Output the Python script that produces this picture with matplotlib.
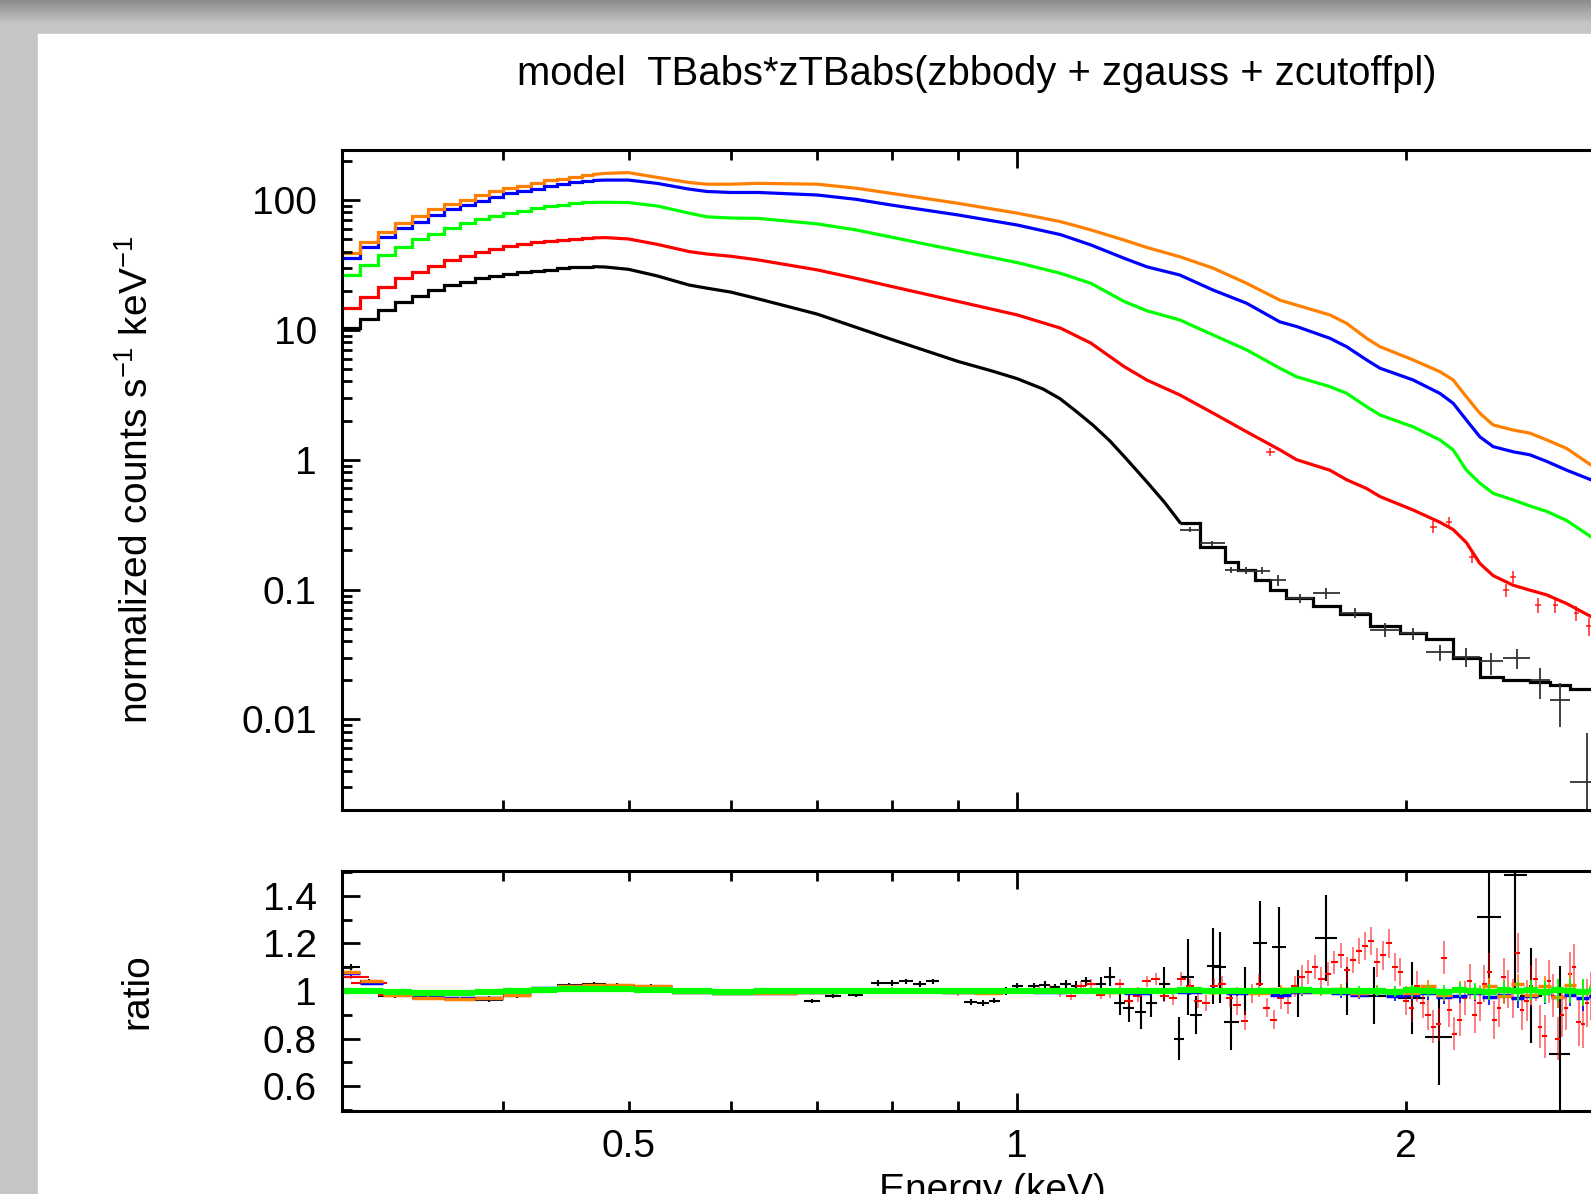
import numpy as np
import matplotlib
matplotlib.use('Agg')
import matplotlib.pyplot as plt
from matplotlib.patches import Rectangle
from matplotlib.ticker import FixedLocator, FixedFormatter, LogLocator, NullFormatter

plt.rcParams['font.family'] = ['Liberation Sans', 'DejaVu Sans']
plt.rcParams['mathtext.fontset'] = 'custom'
plt.rcParams['mathtext.rm'] = 'Liberation Sans'
plt.rcParams['mathtext.default'] = 'regular'

# ---------------- spectrum data (normalized counts s^-1 keV^-1) ----------------
# low-energy bins, 0.01 keV wide
lo_edges = [0.30, 0.31, 0.32, 0.33, 0.34, 0.35, 0.36, 0.37, 0.38, 0.39,
            0.40, 0.41, 0.42, 0.43, 0.44, 0.45, 0.46, 0.47]
lo_black = [10.4, 12.0, 14.2, 16.3, 18.3, 20.2, 22.1, 23.5, 24.9, 26.1,
            27.0, 27.8, 28.5, 29.1, 29.7, 30.2, 30.6]
lo_red = [14.6, 18.0, 21.5, 24.9, 28.0, 31.2, 34.5, 37.0, 39.9, 42.2,
          44.0, 45.5, 47.0, 48.3, 49.5, 50.3, 51.0]
lo_green = [26.4, 31.5, 37.7, 43.6, 49.8, 55.0, 61.0, 66.0, 71.0, 75.0,
            79.0, 82.0, 86.0, 89.0, 92.0, 94.0, 95.5]
lo_blue = [35.5, 43.6, 52.0, 60.4, 68.0, 76.0, 84.7, 91.0, 98.6, 106.0,
           112.0, 117.0, 122.0, 127.0, 133.0, 137.0, 140.0]
lo_orange = [39.0, 47.7, 57.0, 66.7, 75.0, 85.0, 93.0, 100.0, 109.0, 116.0,
             123.0, 128.0, 134.0, 141.0, 146.0, 150.0, 155.0]

# finer binned part, drawn as a continuous model curve
mid_e = [0.47, 0.48, 0.50, 0.526, 0.557, 0.575, 0.60, 0.63, 0.70, 0.75,
         0.80, 0.90, 1.00, 1.08, 1.14, 1.21, 1.26, 1.336, 1.418, 1.505,
         1.597, 1.645, 1.746, 1.799, 1.864, 1.909, 2.025, 2.124, 2.175, 2.227,
         2.281, 2.336, 2.421, 2.494, 2.57, 2.663, 2.781, 2.85]
mid_orange = [157, 160, 162, 149, 136, 132, 132, 134, 132, 123,
              112, 94, 79, 68, 58.7, 49, 43, 36.5, 29.8, 22.8,
              16.9, 15.5, 13.0, 11.2, 8.6, 7.41, 5.86, 4.76, 4.11, 3.05,
              2.28, 1.85, 1.69, 1.60, 1.42, 1.22, 0.91, 0.80]
mid_blue = [141, 142, 142, 134, 121, 116, 114, 114, 109, 101,
            91, 76.5, 64, 54, 45, 35.5, 30.5, 26.4, 20.2, 16.0,
            11.5, 10.6, 8.6, 7.4, 5.86, 5.06, 4.11, 3.24, 2.72, 2.02,
            1.50, 1.26, 1.15, 1.09, 0.97, 0.83, 0.70, 0.62]
mid_green = [95.5, 95.8, 95.3, 89.8, 79, 74, 72.5, 72, 65.3, 58.7,
             51.5, 40.6, 32.9, 27.2, 22.8, 16.5, 14.0, 11.9, 9.12, 7.0,
             5.06, 4.35, 3.65, 3.24, 2.56, 2.21, 1.79, 1.42, 1.19, 0.83,
             0.66, 0.55, 0.49, 0.44, 0.40, 0.34, 0.255, 0.22]
mid_red = [51, 51.2, 50, 45.5, 40, 38.3, 36.8, 34.5, 28.9, 24.9,
           21.5, 16.5, 13.0, 10.3, 7.9, 5.2, 4.1, 3.15, 2.28, 1.64,
           1.19, 1.0, 0.83, 0.70, 0.60, 0.52, 0.41, 0.33, 0.29, 0.23,
           0.159, 0.128, 0.108, 0.099, 0.091, 0.078, 0.062, 0.057]
black_mid_e = [0.47, 0.48, 0.50, 0.526, 0.557, 0.575, 0.60, 0.63, 0.70, 0.80,
               0.90, 0.957, 1.00, 1.047, 1.079, 1.111, 1.144, 1.179, 1.214, 1.259,
               1.30, 1.336]
black_mid = [30.6, 30.4, 29.2, 26.0, 22.1, 20.9, 19.5, 17.3, 13.2, 8.4,
             5.7, 4.8, 4.2, 3.5, 2.95, 2.35, 1.85, 1.40, 1.02, 0.68,
             0.47, 0.33]

# black: coarse bins at high energy
black_hi_edges = [1.336, 1.384, 1.447, 1.482, 1.527, 1.569, 1.616, 1.694, 1.777, 1.875,
                  1.978, 2.074, 2.175, 2.281, 2.378, 2.494, 2.585, 2.679, 2.85]
black_hi_model = [0.324, 0.214, 0.164, 0.142, 0.119, 0.099, 0.086, 0.075, 0.065,
                  0.052, 0.046, 0.0414, 0.030, 0.0211, 0.0201, 0.0195, 0.0184, 0.0171]
black_hi_data = [0.29, 0.227, 0.142, 0.140, 0.140, 0.119, 0.086, 0.094, 0.066,
                 0.049, 0.046, 0.033, 0.0305, 0.028, 0.0296, 0.020, 0.014, 0.0033]
black_hi_elo = [0.012, 0.010, 0.008, 0.008, 0.008, 0.012, 0.007, 0.009, 0.006,
                0.006, 0.005, 0.005, 0.005, 0.006, 0.005, 0.0055, 0.0052, 0.0030]
black_hi_ehi = [0.012, 0.010, 0.008, 0.008, 0.008, 0.010, 0.007, 0.009, 0.006,
                0.006, 0.005, 0.0045, 0.005, 0.0045, 0.005, 0.0048, 0.005, 0.0045]

# a few visible red data crosses
red_pts_e = [1.57, 2.10, 2.16, 2.25, 2.39, 2.42, 2.53, 2.61, 2.71, 2.77]
red_pts_v = [1.15, 0.305, 0.333, 0.179, 0.099, 0.126, 0.076, 0.076, 0.066, 0.052]
red_pts_err = [0.08, 0.03, 0.03, 0.02, 0.012, 0.014, 0.01, 0.01, 0.009, 0.008]

# ---------------- ratio data ----------------
r_e = [0.305, 0.315, 0.33, 0.35, 0.37, 0.39, 0.41, 0.43, 0.45, 0.47,
       0.49, 0.52, 0.56, 0.60, 0.65, 0.70, 0.75, 0.80, 0.85, 0.90,
       0.95, 1.00, 1.06, 1.12, 1.18, 1.24, 1.30, 1.36, 1.42, 1.48,
       1.54, 1.60, 1.66, 1.72, 1.78, 1.84, 1.90, 1.96, 2.02, 2.08,
       2.14, 2.20, 2.26, 2.32, 2.38, 2.44, 2.50, 2.56, 2.62, 2.68,
       2.74, 2.80]
r_orange = [1.08, 1.04, 0.985, 0.972, 0.968, 0.970, 0.985, 1.01, 1.022, 1.025,
            1.025, 1.02, 0.995, 0.99, 0.99, 0.995, 1.0, 1.005, 1.0, 0.995,
            0.99, 1.0, 1.005, 1.0, 0.995, 1.005, 1.0, 1.01, 0.995, 1.005,
            0.99, 1.01, 1.0, 0.995, 1.01, 0.99, 1.005, 1.0, 0.99, 1.02,
            0.985, 1.01, 0.995, 1.02, 0.98, 1.03, 0.985, 1.02, 0.975, 1.025,
            0.99, 1.02]
r_blue = [1.075, 1.035, 0.99, 0.975, 0.97, 0.972, 0.99, 1.012, 1.02, 1.022,
          1.022, 1.015, 0.995, 0.992, 0.992, 0.997, 1.0, 1.003, 1.0, 0.997,
          0.995, 1.0, 0.995, 1.003, 1.0, 0.99, 1.0, 0.995, 1.005, 0.99,
          1.0, 0.985, 0.995, 1.0, 0.99, 0.985, 0.995, 0.98, 0.985, 0.99,
          0.975, 0.98, 0.99, 0.975, 0.985, 0.97, 0.98, 0.99, 0.975, 0.985,
          0.97, 0.98]
r_green = [1.0, 1.0, 0.995, 0.99, 0.99, 0.995, 1.0, 1.005, 1.01, 1.01,
           1.01, 1.005, 0.998, 0.997, 0.998, 1.0, 1.0, 1.002, 1.0, 1.0,
           0.998, 1.0, 1.002, 1.0, 0.998, 1.001, 1.0, 1.003, 0.998, 1.0,
           1.002, 0.999, 1.003, 1.0, 0.998, 1.002, 1.0, 0.997, 1.003, 1.0,
           0.996, 1.004, 1.0, 0.997, 1.005, 0.998, 1.003, 0.996, 1.004, 1.0,
           0.997, 1.003]
r_err = [0.01, 0.008, 0.006, 0.005, 0.005, 0.005, 0.005, 0.005, 0.005, 0.005,
         0.005, 0.005, 0.005, 0.005, 0.005, 0.005, 0.006, 0.006, 0.006, 0.007,
         0.007, 0.008, 0.008, 0.009, 0.01, 0.01, 0.011, 0.012, 0.012, 0.013,
         0.014, 0.015, 0.016, 0.017, 0.018, 0.02, 0.02, 0.022, 0.024, 0.026,
         0.028, 0.03, 0.032, 0.034, 0.036, 0.04, 0.042, 0.045, 0.048, 0.05,
         0.055, 0.06]

red_r_e = [0.305, 0.315, 0.33, 0.35, 0.37, 0.39, 0.41, 0.43, 0.45, 0.47,
           0.49, 0.52, 0.56, 0.60, 0.65, 0.70, 0.75, 0.80, 0.85, 0.90,
           0.95, 1.00,
           1.04, 1.08, 1.12, 1.16, 1.20, 1.24, 1.28, 1.32, 1.36, 1.40,
           1.44, 1.48, 1.52, 1.56, 1.60, 1.64, 1.68, 1.72, 1.76, 1.80,
           1.84, 1.88, 1.92, 1.96, 2.00, 2.04, 2.08, 2.12, 2.16, 2.20,
           2.24, 2.28, 2.32, 2.36, 2.40, 2.44, 2.48, 2.52, 2.56, 2.60,
           2.64, 2.68, 2.72, 2.76, 2.80]
red_r = [1.06, 1.035, 0.985, 0.97, 0.968, 0.97, 0.985, 1.01, 1.02, 1.022,
         1.022, 1.018, 0.995, 0.99, 0.99, 0.995, 1.0, 1.005, 1.0, 0.99,
         0.995, 1.0,
         1.005, 0.99, 1.02, 0.985, 1.03, 0.98, 1.05, 0.97, 1.02, 0.95,
         1.03, 0.94, 0.99, 0.93, 0.97, 1.02, 1.08, 1.05, 1.12, 1.09,
         1.17, 1.21, 1.15, 1.10, 0.96, 1.02, 0.90, 0.86, 0.92, 0.88,
         1.04, 0.95, 1.08, 0.93, 1.01, 1.16, 0.96, 1.05, 0.81, 0.98,
         0.90, 1.07, 0.87, 0.95, 0.82]
red_r_err = [0.01, 0.01, 0.008, 0.008, 0.008, 0.008, 0.008, 0.008, 0.008, 0.008,
             0.008, 0.008, 0.008, 0.008, 0.008, 0.008, 0.01, 0.01, 0.01, 0.01,
             0.01, 0.012,
             0.015, 0.015, 0.02, 0.02, 0.02, 0.025, 0.025, 0.03, 0.03, 0.035,
             0.035, 0.04, 0.04, 0.04, 0.045, 0.045, 0.05, 0.05, 0.05, 0.055,
             0.055, 0.06, 0.06, 0.06, 0.06, 0.065, 0.065, 0.07, 0.07, 0.07,
             0.075, 0.075, 0.08, 0.08, 0.08, 0.085, 0.085, 0.09, 0.09, 0.09,
             0.095, 0.095, 0.1, 0.1, 0.1]
# second set of red bins, between the ones above
red2_e = [1.06, 1.10, 1.14, 1.18, 1.22, 1.26, 1.30, 1.34, 1.38, 1.42,
          1.46, 1.50, 1.54, 1.58, 1.62, 1.66, 1.70, 1.74, 1.78, 1.82,
          1.86, 1.90, 1.94, 1.98, 2.02, 2.06, 2.10, 2.14, 2.18, 2.22,
          2.26, 2.30, 2.34, 2.38, 2.42, 2.46, 2.50, 2.54, 2.58, 2.62,
          2.66, 2.70, 2.74, 2.78]
red2_r = [1.01, 0.98, 1.03, 0.99, 0.96, 1.04, 0.98, 1.05, 0.96, 1.02,
          0.97, 0.875, 1.03, 0.88, 0.95, 1.06, 1.10, 1.07, 1.15, 1.13,
          1.19, 1.12, 1.20, 1.08, 0.93, 0.95, 0.85, 1.14, 0.82, 0.97,
          0.90, 1.03, 0.88, 1.06, 0.97, 0.92, 1.02, 0.85, 1.04, 0.80,
          0.93, 1.10, 0.86, 0.98]
red2_err = [0.015, 0.018, 0.02, 0.02, 0.022, 0.025, 0.028, 0.03, 0.032, 0.035,
            0.038, 0.04, 0.04, 0.042, 0.045, 0.048, 0.05, 0.05, 0.052, 0.055,
            0.058, 0.06, 0.06, 0.06, 0.062, 0.065, 0.068, 0.07, 0.07, 0.072,
            0.075, 0.078, 0.08, 0.08, 0.082, 0.085, 0.088, 0.09, 0.09, 0.092,
            0.095, 0.098, 0.1, 0.1]

b_r_e = [0.305, 0.315, 0.33, 0.35, 0.37, 0.39, 0.41, 0.43, 0.45, 0.47,
         0.49, 0.52, 0.56, 0.60, 0.65, 0.694, 0.72, 0.75, 0.78, 0.80,
         0.82, 0.84, 0.86, 0.88, 0.92, 0.94, 0.96, 0.98, 1.00, 1.03,
         1.05, 1.07, 1.09, 1.11, 1.13, 1.16, 1.179, 1.20, 1.22, 1.246,
         1.27, 1.30, 1.334, 1.355, 1.375, 1.417, 1.436, 1.465, 1.50, 1.541,
         1.594, 1.65, 1.734, 1.80, 1.89, 2.02, 2.12, 2.32, 2.43, 2.50,
         2.63]
b_r = [1.10, 1.04, 0.98, 0.97, 0.965, 0.962, 0.98, 1.01, 1.025, 1.028,
       1.025, 1.02, 0.995, 0.99, 0.99, 0.958, 0.98, 0.985, 1.035, 1.035,
       1.04, 1.03, 1.04, 1.0, 0.955, 0.95, 0.96, 1.0, 1.02, 1.02,
       1.025, 1.015, 1.03, 1.02, 1.04, 1.03, 1.06, 0.95, 0.93, 0.91,
       0.95, 1.03, 0.80, 1.06, 0.90, 1.107, 1.10, 0.87, 1.0, 1.20,
       1.185, 0.99, 1.223, 1.0, 0.98, 0.97, 0.805, 1.313, 1.487, 0.98,
       0.736]
b_r_err = [0.012, 0.01, 0.008, 0.008, 0.008, 0.008, 0.008, 0.008, 0.008, 0.008,
           0.008, 0.008, 0.008, 0.008, 0.008, 0.01, 0.01, 0.01, 0.012, 0.012,
           0.012, 0.012, 0.012, 0.012, 0.012, 0.012, 0.012, 0.015, 0.015, 0.015,
           0.015, 0.015, 0.018, 0.02, 0.02, 0.03, 0.04, 0.05, 0.06, 0.07,
           0.06, 0.07, 0.09, 0.16, 0.08, 0.16, 0.15, 0.12, 0.1, 0.18,
           0.17, 0.1, 0.18, 0.1, 0.12, 0.15, 0.2, 0.35, 0.5, 0.2,
           0.37]
b_r_xerr = [0.005, 0.005, 0.01, 0.01, 0.01, 0.01, 0.01, 0.01, 0.01, 0.01,
            0.01, 0.015, 0.02, 0.02, 0.02, 0.01, 0.01, 0.01, 0.01, 0.01,
            0.01, 0.01, 0.01, 0.01, 0.01, 0.01, 0.01, 0.01, 0.01, 0.01,
            0.01, 0.01, 0.01, 0.01, 0.01, 0.012, 0.012, 0.012, 0.012, 0.012,
            0.012, 0.012, 0.012, 0.015, 0.015, 0.015, 0.015, 0.02, 0.02, 0.02,
            0.02, 0.03, 0.035, 0.04, 0.04, 0.05, 0.05, 0.05, 0.05, 0.05,
            0.05]

C_BLACK, C_RED, C_GREEN, C_BLUE, C_ORANGE = '#000000', '#ff0000', '#00ff00', '#0000ff', '#ff8000'

W, H = 1591, 1194


def halfwidths(e):
    e = np.asarray(e, dtype=float)
    mids = (e[1:] + e[:-1]) / 2
    lo = np.concatenate([[e[0] - (mids[0] - e[0])], mids])
    hi = np.concatenate([mids, [e[-1] + (e[-1] - mids[-1])]])
    return np.vstack([e - lo, hi - e])


fig = plt.figure(figsize=(W / 100, H / 100), dpi=100, facecolor='#c4c4c4')

# screenshot frame: grey border with a darker top strip, white page
bg = fig.add_axes([0, 0, 1, 1], zorder=-10)
bg.axis('off')
shade = np.full((H, 1), 0.77)
shade[:22, 0] = np.linspace(0.55, 0.75, 22)
bg.imshow(shade, cmap='gray', vmin=0, vmax=1, aspect='auto', extent=[0, 1, 0, 1])
bg.add_patch(Rectangle((38 / W, 0), 1, 1 - 34 / H, color='white', transform=bg.transAxes))
bg.set_xlim(0, 1)
bg.set_ylim(0, 1)

left = 342 / W
width = (1633.5 - 342) / W
ax = fig.add_axes([left, 1 - 810 / H, width, 660 / H])
axr = fig.add_axes([left, 1 - 1111 / H, width, 240 / H])

# ---- top: spectra ----
lw = 2.3
for lo_v, mid_v, col in [(lo_red, mid_red, C_RED), (lo_green, mid_green, C_GREEN),
                         (lo_blue, mid_blue, C_BLUE), (lo_orange, mid_orange, C_ORANGE)]:
    ax.stairs(lo_v, lo_edges, baseline=None, color=col, lw=lw)
    ax.plot(mid_e, mid_v, color=col, lw=lw)

ax.stairs(lo_black, lo_edges, baseline=None, color=C_BLACK, lw=lw)
ax.plot(black_mid_e, black_mid, color=C_BLACK, lw=lw)
ax.stairs(black_hi_model, black_hi_edges, baseline=None, color=C_BLACK, lw=lw)
bc = np.sqrt(np.array(black_hi_edges[:-1]) * np.array(black_hi_edges[1:]))
ax.errorbar(bc, black_hi_data,
            xerr=[bc - np.array(black_hi_edges[:-1]), np.array(black_hi_edges[1:]) - bc],
            yerr=[black_hi_elo, black_hi_ehi], fmt='none', ecolor='#333333', elinewidth=1.3)
ax.errorbar(red_pts_e, red_pts_v, xerr=0.012, yerr=red_pts_err, fmt='none',
            ecolor=C_RED, elinewidth=1.2, alpha=0.8)

ax.set_xscale('log')
ax.set_yscale('log')
ax.set_xlim(0.3, 3.0)
ax.set_ylim(0.00201, 242)

# ---- bottom: ratio ----
axr.errorbar(b_r_e, b_r, xerr=b_r_xerr, yerr=b_r_err, fmt='none', ecolor=C_BLACK, elinewidth=1.5)
for ee, vv, er in [(red_r_e, red_r, red_r_err), (red2_e, red2_r, red2_err)]:
    axr.errorbar(ee, vv, xerr=0.01, fmt='none', ecolor=C_RED, elinewidth=1.5)
    axr.errorbar(ee, vv, yerr=er, fmt='none', ecolor=C_RED, elinewidth=1.3, alpha=0.55)
for vals, col in [(r_blue, C_BLUE), (r_orange, C_ORANGE)]:
    axr.errorbar(r_e, vals, xerr=halfwidths(r_e), fmt='none', ecolor=col, elinewidth=2.5)
    axr.errorbar(r_e, vals, yerr=r_err, fmt='none', ecolor=col, elinewidth=1.2)
axr.errorbar(r_e, r_green, xerr=halfwidths(r_e), fmt='none', ecolor=C_GREEN, elinewidth=4.5)
axr.errorbar(r_e, r_green, yerr=r_err, fmt='none', ecolor=C_GREEN, elinewidth=1.3)

axr.set_xscale('log')
axr.set_xlim(0.3, 3.0)
axr.set_ylim(0.495, 1.505)

# ---- axes styling ----
tick_fs = 28
for a in (ax, axr):
    for s in a.spines.values():
        s.set_linewidth(2.2)
    a.tick_params(which='both', direction='in', top=True, right=True, width=2,
                  labelsize=tick_fs, colors='black')
    a.tick_params(which='major', length=13)
    a.tick_params(which='minor', length=7)
    a.tick_params(axis='y', which='both', pad=18)
    a.tick_params(axis='x', which='both', pad=13)
    a.xaxis.set_major_locator(FixedLocator([1.0]))
    a.xaxis.set_minor_locator(FixedLocator([0.4, 0.5, 0.6, 0.7, 0.8, 0.9, 2.0, 3.0]))

axr.xaxis.set_major_formatter(FixedFormatter(['1']))
axr.xaxis.set_minor_formatter(FixedFormatter(['', '0.5', '', '', '', '', '2', '']))
ax.xaxis.set_major_formatter(NullFormatter())
ax.xaxis.set_minor_formatter(NullFormatter())

ax.yaxis.set_major_locator(FixedLocator([0.01, 0.1, 1, 10, 100]))
ax.yaxis.set_major_formatter(FixedFormatter(['0.01', '0.1', '1', '10', '100']))
ax.yaxis.set_minor_locator(LogLocator(base=10, subs=np.arange(2, 10)))
ax.yaxis.set_minor_formatter(NullFormatter())

axr.yaxis.set_major_locator(FixedLocator([0.6, 0.8, 1.0, 1.2, 1.4]))
axr.yaxis.set_major_formatter(FixedFormatter(['0.6', '0.8', '1', '1.2', '1.4']))
axr.yaxis.set_minor_locator(FixedLocator([0.5, 0.7, 0.9, 1.1, 1.3, 1.5]))
axr.yaxis.set_minor_formatter(NullFormatter())

# ---- texts ----
fig.text(976.6 / W, 1 - 74 / H, 'model  TBabs*zTBabs(zbbody + zgauss + zcutoffpl)',
         ha='center', va='center', fontsize=28.8)
fig.text(137 / W, 1 - 480 / H, r'normalized counts s$^{-1}$ keV$^{-1}$',
         rotation=90, ha='center', va='center', fontsize=28)
fig.text(137 / W, 1 - 991 / H, 'ratio', rotation=90, ha='center', va='center', fontsize=28)
fig.text(992 / W, 1 - 1173 / H, 'Energy (keV)', ha='center', va='top', fontsize=28)

fig.savefig('out.png', dpi=100, facecolor=fig.get_facecolor())
